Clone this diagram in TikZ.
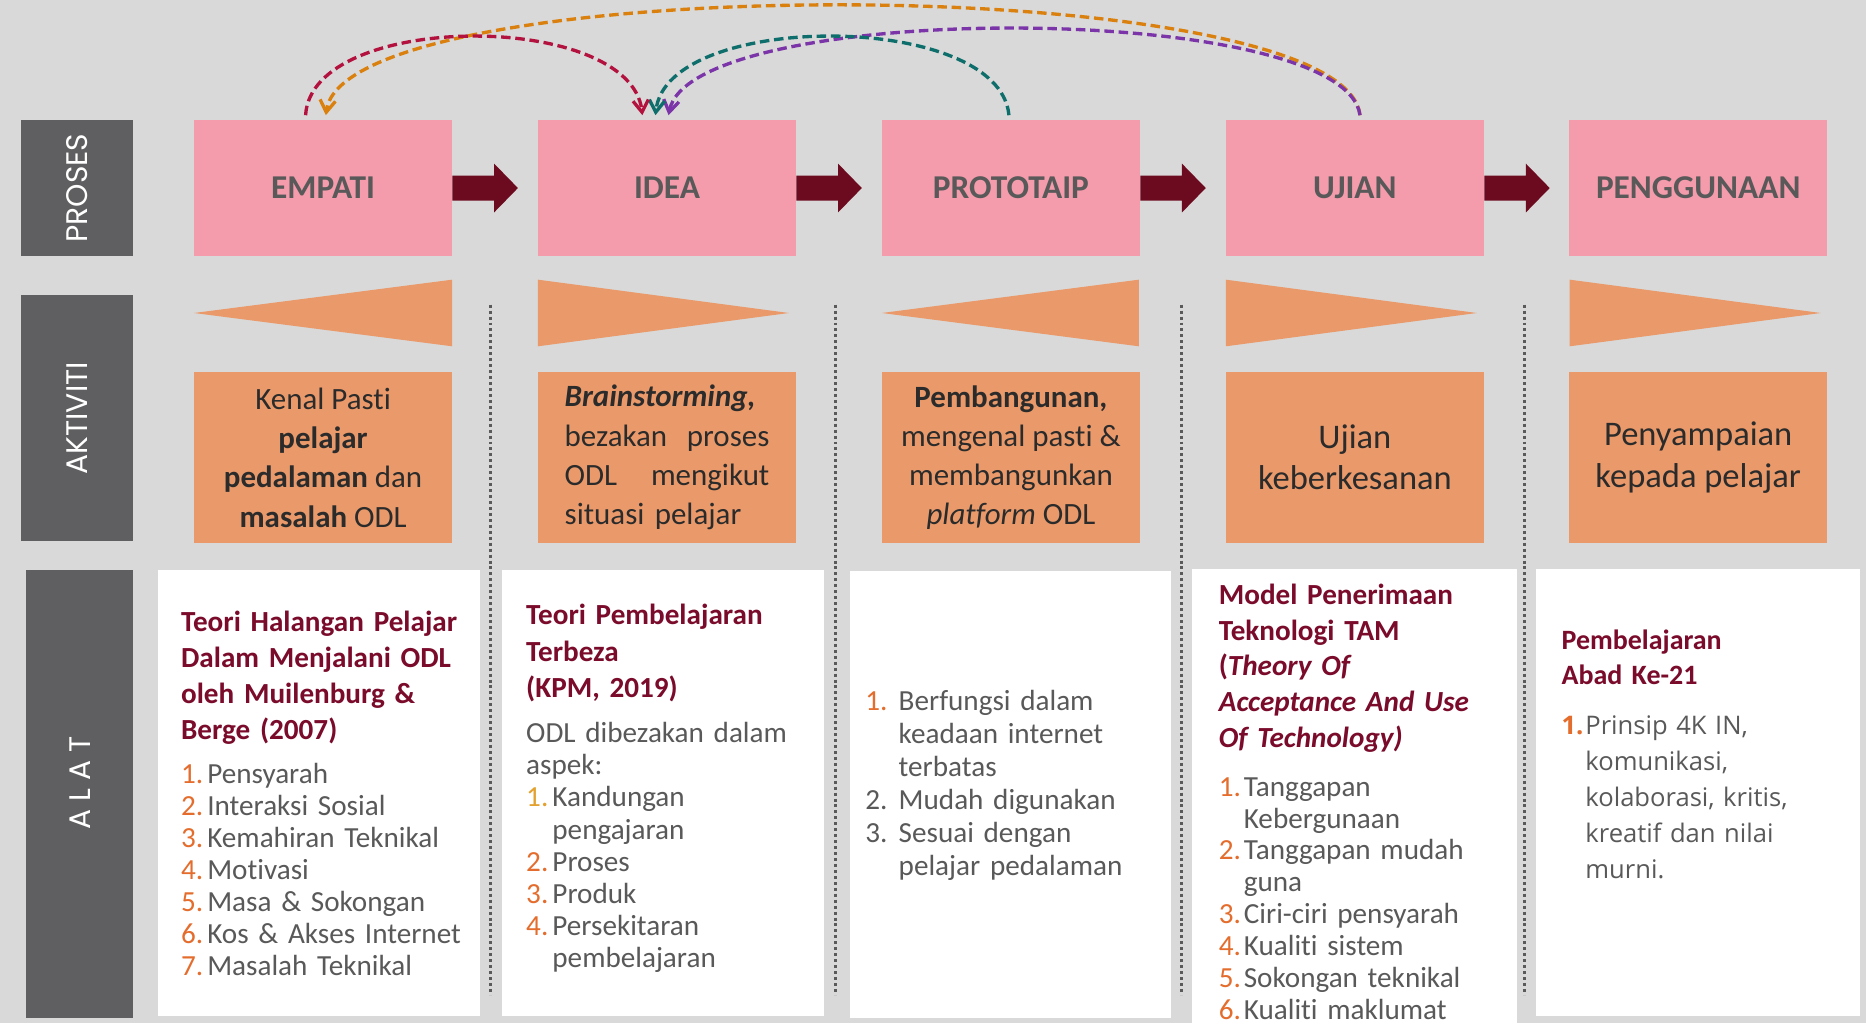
\documentclass[tikz,border=0pt]{standalone}
\usepackage{fontspec}
\setmainfont{Carlito}[Ligatures={NoCommon}, Contextuals={NoAlternate}]
\newfontfamily\labelfont{Poppins}
\newfontfamily\osans{Open Sans}
\usetikzlibrary{arrows.meta,calc}
\definecolor{bg}{HTML}{D9D9D9}
\definecolor{darkbar}{HTML}{5F5F61}
\definecolor{pinkc}{HTML}{F49BAC}
\definecolor{arrowc}{HTML}{6C0A1F}
\definecolor{orangec}{HTML}{EA9A6A}
\definecolor{txtgray}{HTML}{595959}
\definecolor{acttxt}{HTML}{2B2B2B}
\definecolor{headc}{HTML}{7A0B2B}
\definecolor{numc}{HTML}{E46D2D}
\definecolor{numctwo}{HTML}{E3A12F}
\definecolor{crimc}{HTML}{B3123F}
\definecolor{orgc}{HTML}{D9800F}
\definecolor{tealc}{HTML}{0E6E6B}
\definecolor{purpc}{HTML}{7B35A8}
\definecolor{dotc}{HTML}{5A5A5A}
\newcommand{\nm}[2][22pt]{\makebox[#1][l]{\textcolor{numc}{#2}}}
\begin{document}
\begin{tikzpicture}[x=1pt,y=-1pt,
  sidebar/.style={fill=darkbar, text=white, inner sep=0, rotate=90,
    font=\labelfont\fontsize{25}{25}\selectfont},
  pinkbox/.style={fill=pinkc, minimum width=217pt, minimum height=114pt, inner sep=0,
    text=txtgray, font=\bfseries\fontsize{28}{28}\selectfont},
  actbox/.style={fill=orangec, minimum width=217pt, minimum height=143pt, inner sep=0,
    text=acttxt, align=center, font=\fontsize{26}{33}\selectfont},
  whitebox/.style={fill=white, inner sep=0},
  hd/.style={anchor=base west, inner sep=0, text width=262pt, align=left,
    text=headc, font=\bfseries\fontsize{24.5}{30}\selectfont},
  ls/.style={anchor=base west, inner sep=0, text width=262pt, align=left,
    text=txtgray, font=\fontsize{24.5}{27}\selectfont},
  blockarrow/.style={fill=arrowc},
  tri/.style={fill=orangec},
  sep/.style={draw=dotc, line width=2.5pt, dash pattern=on 2.5pt off 2.5pt},
  loop/.style={line width=2.8pt, dash pattern=on 8pt off 4pt,
    -{Straight Barb[length=10pt,width=13pt]}}
]
\useasboundingbox (0,0) rectangle (1568,860);
\fill[bg] (0,0) rectangle (1568,860);

% side labels
\node[sidebar, minimum width=114pt, minimum height=94pt] (sproses) at (65,158) {PROSES};
\node[sidebar, minimum width=207pt, minimum height=94pt] (saktiviti) at (65,351.5) {AKTIVITI};
\node[sidebar, minimum width=376pt, minimum height=90pt] (salat) at (67,667) {\hspace*{18pt}A L A T};

% process boxes
\node[pinkbox] (empati) at (271.5,158) {EMPATI};
\node[pinkbox] (idea) at (560.5,158) {IDEA};
\node[pinkbox] (proto) at (849.5,158) {PROTOTAIP};
\node[pinkbox] (ujian) at (1138.5,158) {UJIAN};
\node[pinkbox] (pengg) at (1427,158) {PENGGUNAAN};

% block arrows
\foreach \a in {empati,idea,proto,ujian}{
  \fill[blockarrow] ([shift={(0,-10.5)}]\a.east) -- ++(35,0) -- ++(0,-10)
    -- ($(\a.east)+(55,0)$) -- ++(-20,20.5) -- ++(0,-10)
    -- ([shift={(0,10.5)}]\a.east) -- cycle;
}

% triangles
\fill[tri] (380,235) -- (380,291) -- (163,263) -- cycle;
\fill[tri] (452,235) -- (452,291) -- (663,263) -- cycle;
\fill[tri] (957,235) -- (957,291) -- (741,263) -- cycle;
\fill[tri] (1030,235) -- (1030,291) -- (1241,263) -- cycle;
\fill[tri] (1319,235) -- (1319,291) -- (1530,263) -- cycle;

% activity boxes
\node[actbox] (a1) at (271.5,384.5) {Kenal Pasti\\\textbf{pelajar}\\\textbf{pedalaman} dan\\\textbf{masalah} ODL};
\node[actbox, text width=172pt, align=left] (a2) at (560.5,384.5) {\textbf{\textit{Brainstorming,}}\\bezakan\hfill proses\\ODL\hfill mengikut\\situasi pelajar};
\node[actbox] (a3) at (849.5,384.5) {\textbf{Pembangunan,}\\mengenal pasti \&\\membangunkan\\\textit{platform} ODL};
\node[actbox, font=\fontsize{29}{34.5}\selectfont] (a4) at (1138.5,384.5) {Ujian\\keberkesanan};
\node[actbox, font=\fontsize{29}{34.5}\selectfont] (a5) at (1427,384.5) {Penyampaian\\kepada pelajar};

% dotted separators
\foreach \x in {412,702,993,1281}{
  \draw[sep] (\x,256) -- (\x,836);
}

% white tool boxes
\node[whitebox, minimum width=270pt, minimum height=375pt] (w1) at (268,666.5) {};
\node[whitebox, minimum width=270pt, minimum height=375pt] (w2) at (557,666.5) {};
\node[whitebox, minimum width=270pt, minimum height=375pt] (w3) at (849,667.5) {};
\node[whitebox, minimum width=273pt, minimum height=402pt] (w4) at (1138.5,679) {};
\node[whitebox, minimum width=272pt, minimum height=376pt] (w5) at (1427,666) {};

% box 1
\node[hd] (h1) at (152,531) {Teori Halangan Pelajar\\Dalam Menjalani ODL\\oleh Muilenburg \&\\Berge (2007)};
\node[ls] (l1) at (152,658) {\nm{1.}Pensyarah\\\nm{2.}Interaksi Sosial\\\nm{3.}Kemahiran Teknikal\\\nm{4.}Motivasi\\\nm{5.}Masa \& Sokongan\\\nm{6.}Kos \& Akses Internet\\\nm{7.}Masalah Teknikal};

% box 2
\node[hd, font=\bfseries\fontsize{24.5}{30.5}\selectfont] (h2) at (442,525) {Teori Pembelajaran\\Terbeza\\(KPM, 2019)};
\node[ls] (l2) at (442,624) {ODL dibezakan dalam\\aspek:\\\makebox[22pt][l]{\textcolor{numctwo}{1.}}Kandungan\\\hspace*{22pt}pengajaran\\\nm{2.}Proses\\\nm{3.}Produk\\\nm{4.}Persekitaran\\\hspace*{22pt}pembelajaran};

% box 3
\node[ls, font=\fontsize{24.5}{27.7}\selectfont] (l3) at (727,597) {\nm[28pt]{1.}Berfungsi dalam\\\hspace*{28pt}keadaan internet\\\hspace*{28pt}terbatas\\\makebox[28pt][l]{2.}Mudah digunakan\\\makebox[28pt][l]{3.}Sesuai dengan\\\hspace*{28pt}pelajar pedalaman};

% box 4
\node[hd] (h4) at (1024,508) {Model Penerimaan\\Teknologi TAM\\(\textit{Theory Of}\\\textit{Acceptance And Use}\\\textit{Of Technology)}};
\node[ls, font=\fontsize{24.5}{26.8}\selectfont] (l4) at (1024,669) {\nm[21pt]{1.}Tanggapan\\\hspace*{21pt}Kebergunaan\\\nm[21pt]{2.}Tanggapan mudah\\\hspace*{21pt}guna\\\nm[21pt]{3.}Ciri-ciri pensyarah\\\nm[21pt]{4.}Kualiti sistem\\\nm[21pt]{5.}Sokongan teknikal\\\nm[21pt]{6.}Kualiti maklumat};

% box 5
\node[hd, font=\bfseries\fontsize{23.5}{29}\selectfont] (h5) at (1312,546) {Pembelajaran\\Abad Ke-21};
\node[ls, font=\osans\fontsize{21.5}{30.3}\selectfont] (l5) at (1312,617) {\makebox[20pt][l]{\textcolor{numc}{\bfseries 1.}}Prinsip 4K IN,\\\hspace*{20pt}komunikasi,\\\hspace*{20pt}kolaborasi, kritis,\\\hspace*{20pt}kreatif dan nilai\\\hspace*{20pt}murni.};

% dashed loops
\draw[loop, draw=orgc] ([shift={(113,-4)}]ujian.north west) .. controls +(-13,-123) and +(16,-123) .. ([shift={(111,-4)}]empati.north west);
\draw[loop, draw=purpc] ([shift={(113,-4)}]ujian.north west) .. controls +(-13,-97) and +(18,-97) .. ([shift={(110,-4)}]idea.north west);
\draw[loop, draw=tealc] ([shift={(107,-4)}]proto.north west) .. controls +(-8,-88) and +(9,-88) .. ([shift={(99,-4)}]idea.north west);
\draw[loop, draw=crimc] ([shift={(94,-4)}]empati.north west) .. controls +(5,-88) and +(-10,-88) .. ([shift={(88,-4)}]idea.north west);
\end{tikzpicture}
\end{document}
